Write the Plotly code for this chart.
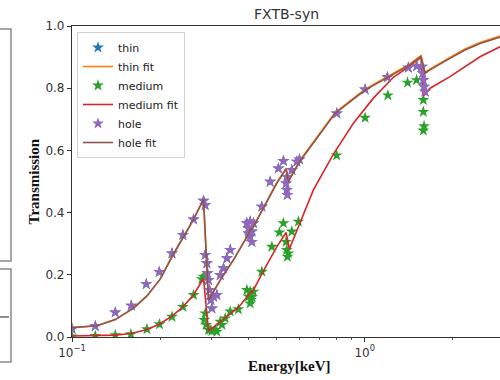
import plotly.graph_objects as go

# ---------------- data (energy in keV, transmission) ----------------
thin_E = [0.100, 0.1201, 0.1405, 0.1593, 0.1793, 0.1986, 0.2195, 0.2392, 0.2601, 0.2813, 0.2850,
          0.2850, 0.2888, 0.2900, 0.2925, 0.2948, 0.2980, 0.3004, 0.3042, 0.3124, 0.3208, 0.3292,
          0.3381, 0.3470, 0.3956, 0.4060, 0.4166, 0.4006, 0.4114, 0.4060, 0.4114, 0.4006, 0.4450,
          0.4751, 0.5069, 0.5273, 0.5416, 0.5386, 0.5416, 0.5441, 0.5632, 0.5861, 0.5982, 0.8025,
          1.0024, 1.1944, 1.4085, 1.5050, 1.5652, 1.5775, 1.5849, 1.5937, 1.6062]
thin_T = [0.026, 0.035, 0.079, 0.101, 0.170, 0.209, 0.269, 0.328, 0.378, 0.438, 0.424,
          0.264, 0.237, 0.205, 0.183, 0.151, 0.119, 0.092, 0.130, 0.135, 0.199, 0.221,
          0.253, 0.280, 0.366, 0.371, 0.366, 0.350, 0.339, 0.323, 0.306, 0.333, 0.419,
          0.499, 0.542, 0.566, 0.515, 0.494, 0.473, 0.457, 0.537, 0.564, 0.571, 0.719,
          0.796, 0.835, 0.866, 0.871, 0.869, 0.848, 0.826, 0.805, 0.789]

thin_fit_E = [0.100, 0.110, 0.1217, 0.1405, 0.1623, 0.1803, 0.2001, 0.2195, 0.2403, 0.2601, 0.2813,
              0.2925, 0.3208, 0.3561, 0.3956, 0.409, 0.4115, 0.4506, 0.5006, 0.5386, 0.5484,
              0.6015, 0.6675, 0.7919, 1.0024, 1.2038, 1.4275, 1.5241, 1.556,
              1.606, 1.671, 1.954, 2.199, 2.475, 2.896, 3.0]
thin_fit_T = [0.030, 0.033, 0.036, 0.056, 0.093, 0.132, 0.186, 0.258, 0.322, 0.378, 0.443,
              0.119, 0.183, 0.248, 0.322, 0.352, 0.347, 0.416, 0.497, 0.543, 0.503,
              0.569, 0.626, 0.722, 0.797, 0.840, 0.878, 0.899, 0.905,
              0.851, 0.862, 0.899, 0.926, 0.947, 0.969, 0.972]

medium_E = [0.100, 0.1201, 0.1405, 0.1589, 0.1803, 0.1990, 0.2195, 0.2392, 0.2601, 0.2778, 0.2813,
            0.2850, 0.2828, 0.2872, 0.2925, 0.2965, 0.3004, 0.3083, 0.3124, 0.3208, 0.3251, 0.3336,
            0.347, 0.370, 0.3956, 0.4060, 0.4166, 0.4006, 0.4082, 0.4060, 0.4119, 0.4450, 0.4815,
            0.5109, 0.5273, 0.5416, 0.5441, 0.5484, 0.5386, 0.5632, 0.5934, 0.8012, 1.0024,
            1.1991, 1.3996, 1.5027, 1.5849, 1.5849, 1.5937, 1.5849]
medium_T = [0.002, 0.003, 0.006, 0.009, 0.025, 0.041, 0.065, 0.097, 0.135, 0.186, 0.194,
            0.076, 0.055, 0.039, 0.023, 0.023, 0.019, 0.023, 0.017, 0.049, 0.039, 0.060,
            0.082, 0.089, 0.151, 0.146, 0.146, 0.130, 0.119, 0.108, 0.129, 0.210, 0.290,
            0.336, 0.366, 0.280, 0.258, 0.269, 0.306, 0.339, 0.371, 0.584, 0.705,
            0.777, 0.818, 0.826, 0.762, 0.724, 0.678, 0.664]

medium_fit_E = [0.100, 0.1217, 0.1405, 0.1593, 0.1793, 0.1986, 0.2195, 0.2392, 0.2601, 0.2778, 0.2813,
                0.2925, 0.3292, 0.347, 0.3704, 0.4060, 0.410, 0.4125, 0.4506, 0.5006, 0.5386, 0.5527,
                0.6015, 0.6506, 0.6675, 0.7814, 0.9143, 1.0699, 1.2520, 1.4275, 1.5241, 1.556,
                1.5849, 1.671, 1.954, 2.199, 2.475, 2.896, 3.0]
medium_fit_T = [0.003, 0.004, 0.006, 0.011, 0.023, 0.041, 0.067, 0.097, 0.135, 0.180, 0.189,
                0.019, 0.055, 0.074, 0.095, 0.145, 0.147, 0.143, 0.213, 0.290, 0.336, 0.283,
                0.371, 0.449, 0.473, 0.588, 0.687, 0.768, 0.835, 0.872, 0.893, 0.899,
                0.775, 0.800, 0.837, 0.869, 0.901, 0.933, 0.940]

hole_E = list(thin_E)
hole_T = list(thin_T)

hole_fit_E = [0.100, 0.110, 0.1217, 0.1405, 0.1623, 0.1803, 0.2001, 0.2195, 0.2403, 0.2601, 0.2813,
              0.2925, 0.3208, 0.3561, 0.3956, 0.409, 0.4115, 0.4506, 0.5006, 0.5386, 0.5484,
              0.6015, 0.6675, 0.7919, 1.0024, 1.2038, 1.4275, 1.5241, 1.556,
              1.606, 1.671, 1.954, 2.199, 2.475, 2.896, 3.0]
hole_fit_T = [0.030, 0.033, 0.036, 0.056, 0.093, 0.132, 0.186, 0.258, 0.322, 0.378, 0.443,
              0.119, 0.183, 0.248, 0.322, 0.350, 0.345, 0.414, 0.494, 0.540, 0.500,
              0.566, 0.623, 0.719, 0.794, 0.837, 0.875, 0.896, 0.902,
              0.848, 0.859, 0.896, 0.923, 0.944, 0.966, 0.969]

y_ticks = [0.0, 0.2, 0.4, 0.6, 0.8, 1.0]
y_tick_labels = ["0.0", "0.2", "0.4", "0.6", "0.8", "1.0"]
x_ticks = [0.1, 1.0]
x_tick_labels = ["10<sup>\u22121</sup>", "10<sup>0</sup>"]
x_minor = [0.2, 0.3, 0.4, 0.5, 0.6, 0.7, 0.8, 0.9, 2.0, 3.0]

C_BLUE, C_ORANGE, C_GREEN, C_RED, C_PURPLE, C_BROWN = (
    "#1f77b4", "#ff7f0e", "#2ca02c", "#d62728", "#9467bd", "#8c564b")

fig = go.Figure()
star = dict(symbol="star", size=9, line=dict(width=0))
fig.add_trace(go.Scatter(x=thin_E, y=thin_T, mode="markers", name="thin",
                         marker=dict(color=C_BLUE, **star)))
fig.add_trace(go.Scatter(x=thin_fit_E, y=thin_fit_T, mode="lines", name="thin fit",
                         line=dict(color=C_ORANGE, width=1.6)))
fig.add_trace(go.Scatter(x=medium_E, y=medium_T, mode="markers", name="medium",
                         marker=dict(color=C_GREEN, **star)))
fig.add_trace(go.Scatter(x=medium_fit_E, y=medium_fit_T, mode="lines", name="medium fit",
                         line=dict(color=C_RED, width=1.6)))
fig.add_trace(go.Scatter(x=hole_E, y=hole_T, mode="markers", name="hole",
                         marker=dict(color=C_PURPLE, **star)))
fig.add_trace(go.Scatter(x=hole_fit_E, y=hole_fit_T, mode="lines", name="hole fit",
                         line=dict(color=C_BROWN, width=1.6)))

L, T_M, B = 72, 26, 43
PW, PH = 500 - L, 380 - T_M - B


def px_x(p):
    return (p - L) / PW


def px_y(p):
    return (380 - B - p) / PH


axis_font = dict(family="DejaVu Sans", size=12, color="#333333")
fig.update_layout(
    width=500, height=380,
    margin=dict(l=L, r=0, t=T_M, b=B),
    paper_bgcolor="white", plot_bgcolor="white",
    showlegend=True,
    legend=dict(x=px_x(77), y=px_y(32), xanchor="left", yanchor="top",
                bgcolor="rgba(255,255,255,0.9)", bordercolor="#d0d0d0", borderwidth=1,
                font=dict(family="DejaVu Sans", size=11, color="#222222"),
                tracegroupgap=0, itemwidth=30),
    xaxis=dict(type="log", range=[-1, 0.4618], showgrid=False, zeroline=False,
               showline=True, linecolor="#333333", linewidth=1.2, mirror=True,
               ticks="outside", ticklen=4, tickcolor="#333333",
               tickvals=x_ticks, ticktext=x_tick_labels, tickfont=axis_font,
               minor=dict(ticks="outside", ticklen=2, tickcolor="#555555", tickvals=x_minor)),
    yaxis=dict(range=[0, 1.0], showgrid=False, zeroline=False,
               showline=True, linecolor="#333333", linewidth=1.2,
               ticks="outside", ticklen=4, tickcolor="#333333",
               tickvals=y_ticks, ticktext=y_tick_labels, tickfont=axis_font),
    annotations=[
        dict(text="FXTB-syn", xref="paper", yref="paper", x=0.5, y=px_y(14),
             xanchor="center", yanchor="middle", showarrow=False,
             font=dict(family="DejaVu Sans", size=14, color="#333333")),
        dict(text="<b>Energy[keV]</b>", xref="paper", yref="paper", x=px_x(289), y=px_y(366),
             xanchor="center", yanchor="middle", showarrow=False,
             font=dict(family="Liberation Serif", size=15, color="#111111")),
        dict(text="<b>Transmission</b>", xref="paper", yref="paper", x=px_x(33), y=0.5,
             xanchor="center", yanchor="middle", showarrow=False, textangle=-90,
             font=dict(family="Liberation Serif", size=15, color="#111111")),
    ],
    shapes=[
        dict(type="rect", xref="paper", yref="paper", x0=px_x(-5), x1=px_x(11),
             y0=px_y(261), y1=px_y(29), line=dict(color="#8a8a8a", width=1.5)),
        dict(type="rect", xref="paper", yref="paper", x0=px_x(-5), x1=px_x(11),
             y0=px_y(362), y1=px_y(269), line=dict(color="#8a8a8a", width=1.5)),
        dict(type="line", xref="paper", yref="paper", x0=px_x(0), x1=px_x(11),
             y0=px_y(317), y1=px_y(317), line=dict(color="#444444", width=1.2, dash="dash")),
    ],
)

fig.write_html("out.html")
